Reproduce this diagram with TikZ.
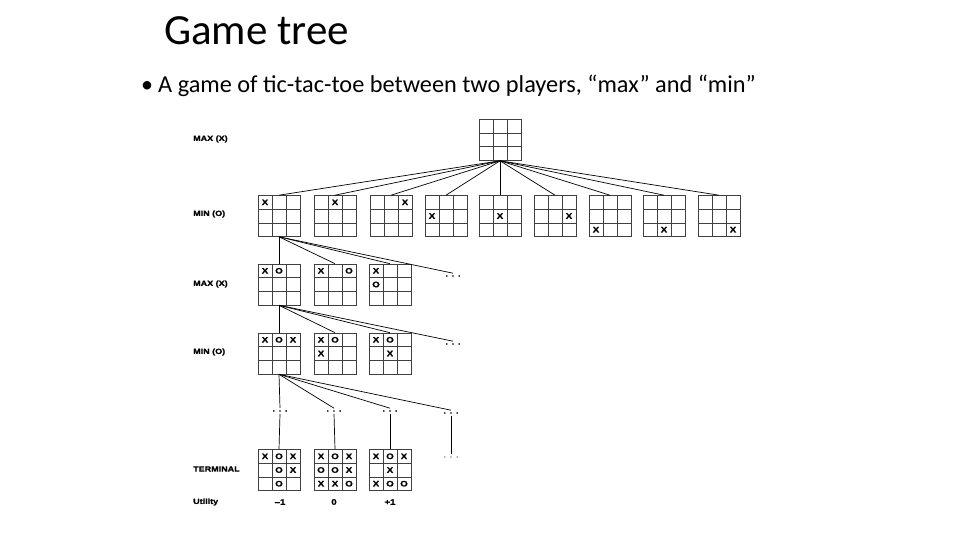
\documentclass[tikz,border=0pt]{standalone}
\usepackage{fontspec}
\setmainfont{Carlito}
\newfontfamily\lblfont[FakeStretch=1.2,FakeBold=1.2]{Liberation Sans Bold}
\usetikzlibrary{calc}
\colorlet{gridc}{black!75}
\tikzset{
  every node/.style={inner sep=0pt},
  board/.style={draw=gridc,line width=0.6pt,minimum width=42pt,minimum height=41pt,
    path picture={
      \foreach \k in {-1,1}{
        \draw[gridc,line width=0.6pt] ([xshift={\k*7pt}]path picture bounding box.north)
          -- ([xshift={\k*7pt}]path picture bounding box.south);
        \draw[gridc,line width=0.6pt] ([yshift={\k*6.8pt}]path picture bounding box.west)
          -- ([yshift={\k*6.8pt}]path picture bounding box.east);
      }
    }},
  mk/.style={font=\lblfont\fontsize{8}{8}\selectfont},
  lvl/.style={font=\lblfont\fontsize{7.5}{8}\selectfont,anchor=west},
  more/.style={font=\lblfont\fontsize{8}{8}\selectfont,inner sep=2pt},
  edge/.style={line width=0.7pt},
}
% marks on a board: col/row/symbol
\newcommand{\putmarks}[2]{%
  \foreach \mc/\mr/\ms in {#2}{\node[mk] at ([xshift={(\mc-2)*14pt},yshift={(2-\mr)*13.7pt}]#1.center) {\ms};}}

\begin{document}
\begin{tikzpicture}[x=1pt,y=1pt]
  \path[fill=white,use as bounding box] (0,0) rectangle (960,-540);

  % heading
  \node[anchor=base west,font=\fontsize{43}{50}\selectfont] (title) at (164,-45) {Game tree};
  \node[anchor=base west,font=\fontsize{24}{28}\selectfont] (bul) at (141,-93) {\textbullet};
  \node[anchor=base west,font=\fontsize{24.3}{28}\selectfont] (line1) at (158,-93)
    {A game of tic-tac-toe between two players, “max” and “min”};

  % level labels
  \node[lvl] (l1) at (193,-139) {MAX (X)};
  \node[lvl] (l2) at (193,-214) {MIN (O)};
  \node[lvl] (l3) at (193,-284) {MAX (X)};
  \node[lvl] (l4) at (193,-352) {MIN (O)};
  \node[lvl] (l5) at (193,-469) {TERMINAL};
  \node[lvl] (l6) at (193,-502) {Utility};

  % root
  \node[board] (root) at (500,-140) {};

  % first move of X
  \foreach \i/\x/\col/\row in {1/279/1/1,2/335/2/1,3/391/3/1,4/446/1/2,5/500/2/2,
                           6/555/3/2,7/610/1/3,8/664/2/3,9/719/3/3}{
    \node[board] (m\i) at (\x,-216) {};
    \putmarks{m\i}{\col/\row/X}
    \draw[edge] (root.south) -- (m\i.north);
  }

  % reply of O
  \node[board] (a1) at (279,-284.5) {};
  \node[board] (a2) at (335,-284.5) {};
  \node[board] (a3) at (390,-284.5) {};
  \putmarks{a1}{1/1/X,2/1/O}
  \putmarks{a2}{1/1/X,3/1/O}
  \putmarks{a3}{1/1/X,1/2/O}
  \node[more] (d1) at (453,-276) {. . .};

  % second move of X
  \node[board] (b1) at (279,-353.5) {};
  \node[board] (b2) at (335,-353.5) {};
  \node[board] (b3) at (390,-353.5) {};
  \putmarks{b1}{1/1/X,2/1/O,3/1/X}
  \putmarks{b2}{1/1/X,2/1/O,1/2/X}
  \putmarks{b3}{1/1/X,2/1/O,2/2/X}
  \node[more] (d2) at (453,-344) {. . .};

  \foreach \n in {a1,a2,a3,d1}{\draw[edge] (m1.south) -- (\n.north);}
  \foreach \n in {b1,b2,b3,d2}{\draw[edge] (a1.south) -- (\n.north);}

  % further moves
  \node[more] (e1) at (280,-411) {. . .};
  \node[more] (e2) at (334,-411) {. . .};
  \node[more] (e3) at (390,-411) {. . .};
  \node[more] (e4) at (451,-413) {. . .};
  \foreach \n in {e1,e2,e3,e4}{\draw[edge] (b1.south) -- (\n.north);}

  % terminal states
  \node[board] (t1) at (279,-470) {};
  \node[board] (t2) at (335,-470) {};
  \node[board] (t3) at (390,-470) {};
  \putmarks{t1}{1/1/X,2/1/O,3/1/X,2/2/O,3/2/X,2/3/O}
  \putmarks{t2}{1/1/X,2/1/O,3/1/X,1/2/O,2/2/O,3/2/X,1/3/X,2/3/X,3/3/O}
  \putmarks{t3}{1/1/X,2/1/O,3/1/X,2/2/X,1/3/X,2/3/O,3/3/O}
  \node[more,text=black!40] (e5) at (451,-457) {. . .};
  \foreach \i in {1,2,3}{\draw[edge] (e\i.south) -- (t\i.north);}
  \draw[edge] (e4.south) -- (e5.north);

  % utilities
  \node[mk] (u1) at (280,-502) {–1};
  \node[mk] (u2) at (334,-502) {0};
  \node[mk] (u3) at (390,-502) {+1};
\end{tikzpicture}
\end{document}
